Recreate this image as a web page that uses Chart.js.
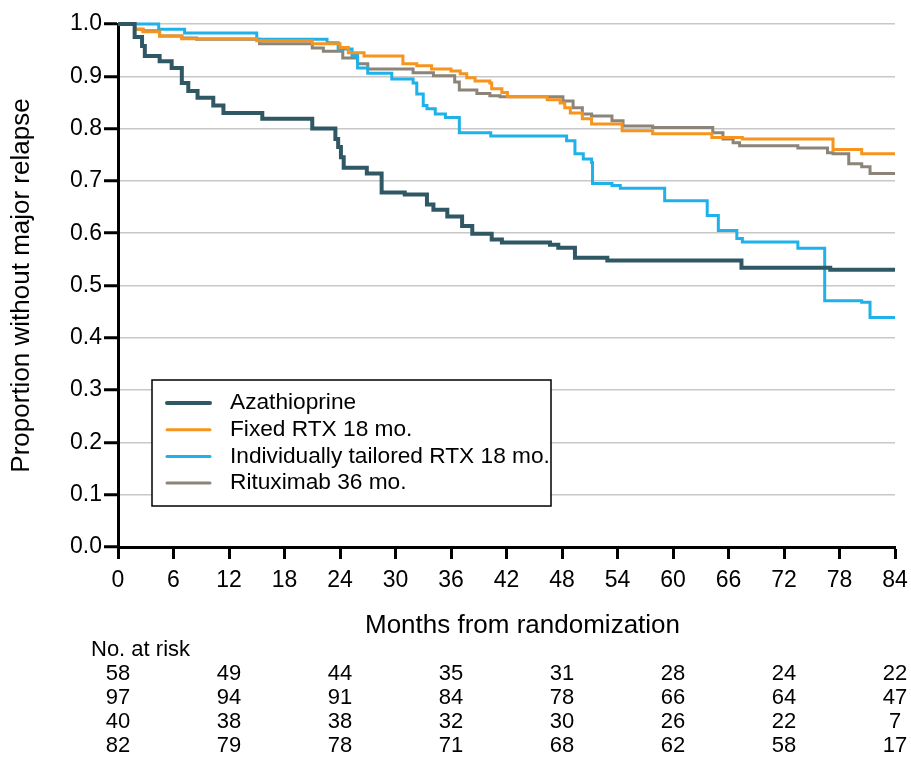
<!DOCTYPE html>
<html>
<head>
<meta charset="utf-8">
<script src="https://cdn.jsdelivr.net/npm/chart.js@4.4.1/dist/chart.umd.min.js"></script>
<style>
  html, body { margin: 0; padding: 0; background: #fff; }
</style>
</head>
<body>
<canvas id="kmChart" width="911" height="758"></canvas>
<script>
// Kaplan-Meier curves (months, proportion)
const azaMonths = [0, 1.8, 2.6, 2.9, 4.5, 5.8, 6.9, 7.6, 8.6, 10.3, 11.4, 15.6, 21.0, 23.5, 23.8, 24.1, 24.4, 26.9, 28.5, 31.0, 33.4, 34.1, 35.6, 37.2, 38.3, 40.4, 41.5, 46.7, 47.6, 49.4, 52.9, 67.4, 77.0, 84];
const azaValues = [1.0, 0.975, 0.958, 0.939, 0.929, 0.916, 0.887, 0.872, 0.859, 0.844, 0.830, 0.819, 0.800, 0.780, 0.765, 0.745, 0.725, 0.714, 0.678, 0.674, 0.655, 0.645, 0.632, 0.614, 0.599, 0.588, 0.582, 0.578, 0.572, 0.553, 0.548, 0.534, 0.530, 0.530];

const fixedMonths = [0, 1.8, 2.7, 4.5, 6.9, 15.0, 21.0, 24.0, 24.9, 26.6, 30.8, 32.3, 33.9, 36.0, 37.0, 37.7, 38.6, 40.2, 40.4, 41.5, 42.1, 46.4, 47.8, 48.3, 48.9, 50.2, 51.2, 54.5, 57.8, 64.2, 67.5, 77.3, 80.4, 84];
const fixedValues = [1.0, 0.99, 0.985, 0.977, 0.972, 0.968, 0.962, 0.955, 0.945, 0.939, 0.924, 0.920, 0.914, 0.910, 0.905, 0.897, 0.891, 0.887, 0.876, 0.869, 0.861, 0.855, 0.849, 0.840, 0.830, 0.819, 0.809, 0.796, 0.790, 0.783, 0.780, 0.760, 0.752, 0.752];

const tailoredMonths = [0, 4.4, 7.2, 15.0, 22.6, 23.8, 25.3, 25.9, 27.0, 29.6, 31.9, 32.3, 33.0, 33.4, 34.3, 35.4, 36.9, 40.3, 48.5, 49.4, 50.3, 51.2, 51.3, 53.4, 54.3, 59.1, 63.7, 64.9, 66.9, 67.5, 73.5, 76.4, 80.4, 81.3, 84];
const tailoredValues = [1.0, 0.99, 0.983, 0.971, 0.964, 0.952, 0.940, 0.916, 0.906, 0.895, 0.887, 0.866, 0.844, 0.838, 0.828, 0.821, 0.792, 0.786, 0.777, 0.752, 0.742, 0.735, 0.695, 0.691, 0.686, 0.662, 0.634, 0.605, 0.590, 0.583, 0.571, 0.471, 0.468, 0.439, 0.439];

const r36Months = [0, 1.8, 2.7, 4.5, 6.9, 8.5, 15.3, 21.0, 22.2, 24.3, 25.9, 27.0, 31.9, 34.1, 36.4, 36.9, 38.8, 40.2, 41.3, 48.1, 49.2, 50.2, 51.2, 53.4, 54.6, 57.8, 64.3, 65.4, 66.5, 67.2, 73.5, 76.7, 77.3, 79.0, 80.4, 81.3, 84];
const r36Values = [1.0, 0.99, 0.987, 0.977, 0.973, 0.971, 0.962, 0.954, 0.948, 0.935, 0.924, 0.914, 0.907, 0.901, 0.889, 0.874, 0.867, 0.863, 0.861, 0.853, 0.840, 0.828, 0.824, 0.815, 0.805, 0.802, 0.792, 0.780, 0.773, 0.767, 0.763, 0.754, 0.752, 0.733, 0.727, 0.714, 0.714];

// Number at risk table
const riskMonths = [0, 12, 24, 36, 48, 60, 72, 84];
const riskAza = [58, 49, 44, 35, 31, 28, 24, 22];
const riskFixed = [97, 94, 91, 84, 78, 66, 64, 47];
const riskTailored = [40, 38, 38, 32, 30, 26, 22, 7];
const riskR36 = [82, 79, 78, 71, 68, 62, 58, 17];

const xTitle = 'Months from randomization';
const FONT = '"Liberation Sans", Arial, Helvetica, sans-serif';

function toPoints(xs, ys) {
    return xs.map((m, i) => ({ x: m, y: ys[i] }));
}

function series(label, xs, ys, color, width) {
    return {
        label: label,
        data: toPoints(xs, ys),
        borderColor: color,
        backgroundColor: color,
        borderWidth: width,
        stepped: true,
        pointRadius: 0,
        fill: false,
        clip: 6
    };
}

// legend drawn inside the plot, like the original
const legendBox = {
    id: 'legendBox',
    afterDatasetsDraw(chart) {
        const { ctx, chartArea } = chart;
        const x0 = chartArea.left + 34, y0 = chartArea.top + 356;
        const w = 399, h = 126;
        ctx.save();
        ctx.fillStyle = '#fff';
        ctx.fillRect(x0, y0, w, h);
        ctx.strokeStyle = '#000';
        ctx.lineWidth = 1.5;
        ctx.strokeRect(x0, y0, w, h);
        chart.data.datasets.forEach((ds, i) => {
            const y = y0 + 23 + i * 26.7;
            ctx.strokeStyle = ds.borderColor;
            ctx.lineWidth = ds.borderWidth;
            ctx.lineCap = 'round';
            ctx.beginPath();
            ctx.moveTo(x0 + 15, y);
            ctx.lineTo(x0 + 58, y);
            ctx.stroke();
            ctx.fillStyle = '#000';
            ctx.font = '22.7px ' + FONT;
            ctx.textBaseline = 'middle';
            ctx.textAlign = 'left';
            ctx.fillText(ds.label, x0 + 78, y);
        });
        ctx.restore();
    }
};

// x title (sits a bit right of the axis centre in the original) + risk table
const riskTable = {
    id: 'riskTable',
    afterDraw(chart) {
        const { ctx, chartArea } = chart;
        const xs = chart.scales.x;
        ctx.save();
        ctx.fillStyle = '#000';
        ctx.textBaseline = 'middle';
        ctx.textAlign = 'center';
        ctx.font = '26px ' + FONT;
        ctx.fillText(xTitle, (chartArea.left + chartArea.right) / 2 + 16, chartArea.bottom + 79);

        const top = chartArea.bottom + 103;
        ctx.font = '22px ' + FONT;
        ctx.textAlign = 'left';
        ctx.fillText('No. at risk', 91, top);
        ctx.textAlign = 'center';
        [riskAza, riskFixed, riskTailored, riskR36].forEach((row, r) => {
            row.forEach((n, i) => {
                ctx.fillText(String(n), xs.getPixelForValue(riskMonths[i]), top + 24 + r * 24);
            });
        });
        ctx.restore();
    }
};

new Chart(document.getElementById('kmChart'), {
    type: 'line',
    data: {
        datasets: [
            series('Azathioprine', azaMonths, azaValues, '#2f5864', 4),
            series('Fixed RTX 18 mo.', fixedMonths, fixedValues, '#f7941d', 3),
            series('Individually tailored RTX 18 mo.', tailoredMonths, tailoredValues, '#1fb1ea', 3),
            series('Rituximab 36 mo.', r36Months, r36Values, '#8c8479', 3)
        ]
    },
    plugins: [legendBox, riskTable],
    options: {
        responsive: false,
        animation: false,
        layout: { padding: { left: 0, right: 16, top: 24, bottom: 113 } },
        plugins: {
            legend: { display: false },
            tooltip: { enabled: false }
        },
        scales: {
            x: {
                type: 'linear',
                min: 0,
                max: 84,
                ticks: {
                    stepSize: 6,
                    autoSkip: false,
                    maxRotation: 0,
                    color: '#000',
                    padding: 8,
                    font: { family: FONT, size: 23 }
                },
                grid: { drawOnChartArea: false, tickLength: 12, tickColor: '#000', tickWidth: 3 },
                border: { color: '#000', width: 3 },
                title: { display: false },
                afterFit(scale) {
                    scale.height = 98;
                    scale.paddingLeft = 0;
                    scale.paddingRight = 0;
                }
            },
            y: {
                min: 0,
                max: 1,
                ticks: {
                    stepSize: 0.1,
                    color: '#000',
                    padding: 2,
                    font: { family: FONT, size: 23 },
                    callback: v => Number(v).toFixed(1)
                },
                grid: { color: '#c8c8c8', lineWidth: 1.5, tickLength: 14, tickColor: '#000', tickWidth: 3 },
                border: { color: '#000', width: 3 },
                title: {
                    display: true,
                    text: 'Proportion without major relapse',
                    color: '#000',
                    font: { family: FONT, size: 26 },
                    padding: { top: 6, bottom: 4 }
                },
                afterFit(scale) {
                    scale.width = 118;
                    scale.paddingTop = 0;
                    scale.paddingBottom = 0;
                }
            }
        }
    }
});
</script>
</body>
</html>
